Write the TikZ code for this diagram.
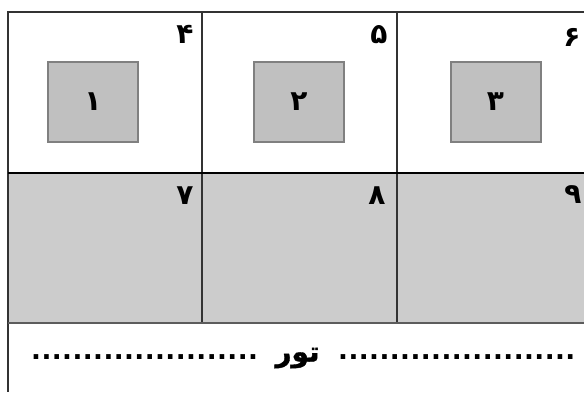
\documentclass[tikz,border=0pt]{standalone}
\usepackage{fontspec}
\TeXXeTstate=1
\newfontfamily\arabicfont[Script=Arabic]{DejaVu Sans}
\newfontfamily\wordfont[Script=Arabic,FakeBold=1.5]{DejaVu Sans Bold}
\newfontfamily\dotsfont{DejaVu Sans}
\definecolor{rowgray}{HTML}{CCCCCC}
\definecolor{sqfill}{HTML}{C0C0C0}
\definecolor{sqline}{HTML}{808080}
\definecolor{frameline}{HTML}{333333}
\newcommand\onedot{.\kern0.45pt}
\begin{document}
\begin{tikzpicture}[x=1pt,y=-1pt,
  gridline/.style={draw=frameline,line width=1.5pt},
  inbox/.style={draw=sqline,fill=sqfill,line width=2pt,minimum width=90pt,minimum height=80pt,inner sep=0pt,
    font=\arabicfont\bfseries\fontsize{28}{30}\selectfont},
  cornernum/.style={inner sep=0pt,font=\arabicfont\bfseries\fontsize{28}{30}\selectfont},
  dotrow/.style={inner sep=0pt,font=\dotsfont\bfseries\fontsize{26}{30}\selectfont},
  word/.style={inner sep=0pt,font=\wordfont\fontsize{28}{30}\selectfont}]
\useasboundingbox (0,0) rectangle (584,392);
\fill[white] (0,0) rectangle (584,392);
\fill[rowgray] (8,173) rectangle (584,323);
% frame and grid
\draw[gridline] (584,12) -- (8,12) -- (8,392);
\draw[gridline] (202,12) -- (202,323);
\draw[gridline] (397,12) -- (397,323);
\draw[gridline,draw=frameline!80] (8,323) -- (584,323);
\draw[draw=black,line width=2.8pt] (8,173) -- (584,173);
% inner squares
\node[inbox] (s1) at (93,102) {۱};
\node[inbox] (s2) at (299,102) {۲};
\node[inbox] (s3) at (495.5,102) {۳};
% corner numbers
\node[cornernum] (n4) at (185,34) {۴};
\node[cornernum] (n5) at (379,35) {۵};
\node[cornernum] (n6) at (572,37) {۶};
\node[cornernum] (n7) at (185,196) {۷};
\node[cornernum] (n8) at (377,196) {۸};
\node[cornernum] (n9) at (573,195) {۹};
% bottom line
\node[word] (w) at (297.5,358) {\beginR تور\endR};
\node[dotrow,anchor=base west] (dl) at (31,359) {\onedot\onedot\onedot\onedot\onedot\onedot\onedot\onedot\onedot\onedot\onedot\onedot\onedot\onedot\onedot\onedot\onedot\onedot\onedot\onedot\onedot.};
\node[dotrow,anchor=base west] (dr) at (338,359) {\onedot\onedot\onedot\onedot\onedot\onedot\onedot\onedot\onedot\onedot\onedot\onedot\onedot\onedot\onedot\onedot\onedot\onedot\onedot\onedot\onedot\onedot.};
\end{tikzpicture}
\end{document}
